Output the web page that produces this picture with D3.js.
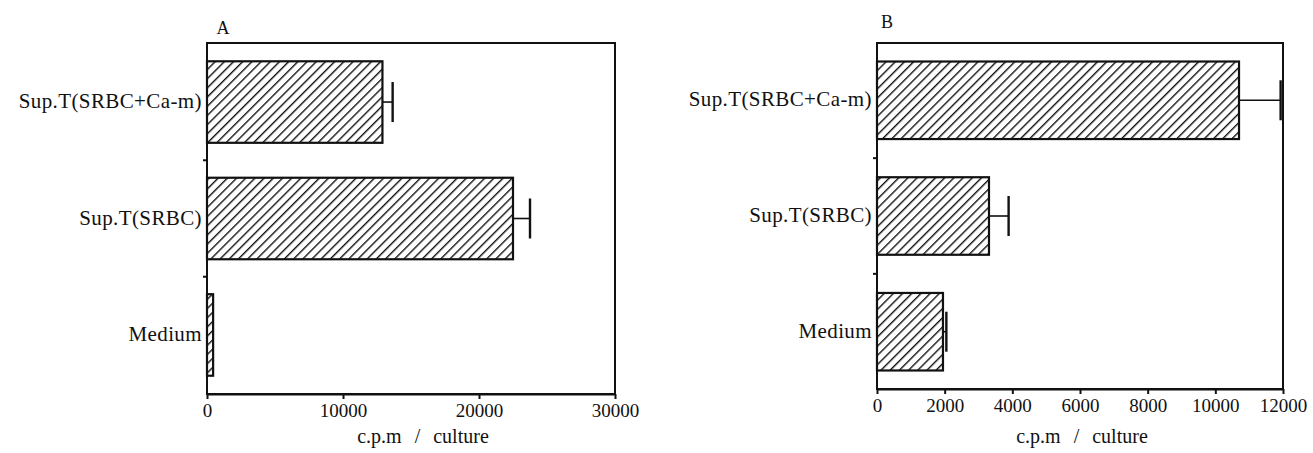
<!DOCTYPE html>
<html>
<head>
<meta charset="utf-8">
<script src="https://cdn.jsdelivr.net/npm/d3@7"></script>
<style>
  body { margin: 0; background: #fff; }
</style>
</head>
<body>
<div id="chart"></div>
<script>
// cpm per culture, two experiments (panel A / panel B)

const categories = ["Sup.T(SRBC+Ca-m)", "Sup.T(SRBC)", "Medium"];

const valuesA = [12900, 22500, 450];
const errorsA = [750, 1250, 0];
const ticksA  = [0, 10000, 20000, 30000];

const valuesB = [10700, 3310, 1950];
const errorsB = [1230, 580, 100];
const ticksB  = [0, 2000, 4000, 6000, 8000, 10000, 12000];

const axisTitle = "c.p.m / culture";

const FONT = "Liberation Serif";

const svg = d3.select("#chart").append("svg")
    .attr("width", 1313)
    .attr("height", 453);

// diagonal hatch used for every bar
const defs = svg.append("defs");
defs.append("pattern")
    .attr("id", "hatch")
    .attr("patternUnits", "userSpaceOnUse")
    .attr("width", 6.5)
    .attr("height", 6.5)
    .attr("patternTransform", "rotate(45)")
  .append("line")
    .attr("x1", 0).attr("y1", 0)
    .attr("x2", 0).attr("y2", 6.5)
    .attr("stroke", "#111")
    .attr("stroke-width", 2.8);

function drawPanel(opt) {
    const g = svg.append("g");

    const x = d3.scaleLinear()
        .domain([0, opt.max])
        .range([opt.left, opt.right]);

    const y = d3.scaleBand()
        .domain(categories)
        .range([opt.top, opt.bottom])
        .paddingInner(opt.padIn)
        .paddingOuter(opt.padOut);

    // frame
    g.append("rect")
        .attr("x", opt.left).attr("y", opt.top)
        .attr("width", opt.right - opt.left)
        .attr("height", opt.bottom - opt.top)
        .attr("fill", "none")
        .attr("stroke", "#111")
        .attr("stroke-width", 2);

    // bottom axis
    const xAxis = g.append("g")
        .attr("transform", `translate(0,${opt.bottom})`)
        .call(d3.axisBottom(x).tickValues(opt.ticks).tickSize(5).tickSizeOuter(0).tickFormat(d3.format("d")));
    xAxis.attr("font-family", FONT).attr("font-size", 19);
    xAxis.select(".domain").attr("stroke", "#111").attr("stroke-width", 2);
    xAxis.selectAll(".tick line").attr("stroke", "#111").attr("stroke-width", 2);
    xAxis.selectAll(".tick text")
        .attr("y", opt.tickLabelDy)
        .attr("font-family", FONT)
        .attr("font-size", 19)
        .attr("fill", "#111");

    // small ticks between categories on left axis
    const step = y.step();
    const bounds = categories.slice(1).map(c => y(c) - step * opt.padIn / 2);
    g.selectAll(".ytick").data(bounds).enter().append("line")
        .attr("x1", opt.left - 4).attr("x2", opt.left)
        .attr("y1", d => d).attr("y2", d => d)
        .attr("stroke", "#111")
        .attr("stroke-width", 2);

    // category labels
    g.selectAll(".cat").data(categories).enter().append("text")
        .attr("x", opt.left - 5)
        .attr("y", d => y(d) + y.bandwidth() / 2 + 6)
        .attr("text-anchor", "end")
        .attr("font-family", FONT)
        .attr("font-size", 21)
        .attr("letter-spacing", 0.4)
        .attr("fill", "#111")
        .text(d => d);

    // bars
    g.selectAll(".bar").data(opt.values).enter().append("rect")
        .attr("x", x(0))
        .attr("y", (d, i) => y(categories[i]))
        .attr("width", d => x(d) - x(0))
        .attr("height", y.bandwidth())
        .attr("fill", "url(#hatch)")
        .attr("stroke", "#111")
        .attr("stroke-width", 2.2);

    // error bars (one-sided, to the right)
    opt.values.forEach((v, i) => {
        const e = opt.errors[i];
        if (!e) return;
        const cy = y(categories[i]) + y.bandwidth() / 2;
        g.append("line")
            .attr("x1", x(v)).attr("x2", x(v + e))
            .attr("y1", cy).attr("y2", cy)
            .attr("stroke", "#111").attr("stroke-width", 1.6);
        g.append("line")
            .attr("x1", x(v + e)).attr("x2", x(v + e))
            .attr("y1", cy - 20).attr("y2", cy + 20)
            .attr("stroke", "#111").attr("stroke-width", 2.4);
    });

    // axis title and panel letter
    g.append("text")
        .attr("x", opt.titleX)
        .attr("y", 443)
        .attr("text-anchor", "middle")
        .attr("font-family", FONT)
        .attr("font-size", 20)
        .attr("word-spacing", 8)
        .attr("fill", "#111")
        .text(axisTitle);

    g.append("text")
        .attr("x", opt.letterX)
        .attr("y", opt.letterY)
        .attr("text-anchor", "middle")
        .attr("font-family", FONT)
        .attr("font-size", 18)
        .attr("fill", "#111")
        .text(opt.letter);
}

drawPanel({
    letter: "A", letterX: 223, letterY: 34,
    values: valuesA, errors: errorsA, ticks: ticksA, max: 30000,
    left: 207, right: 615, top: 43, bottom: 394,
    padIn: 0.3, padOut: 0.157,
    tickLabelDy: 10, titleX: 423
});

drawPanel({
    letter: "B", letterX: 887, letterY: 28,
    values: valuesB, errors: errorsB, ticks: ticksB, max: 12000,
    left: 877, right: 1283, top: 43, bottom: 389,
    padIn: 0.33, padOut: 0.16,
    tickLabelDy: 10, titleX: 1082
});
</script>
</body>
</html>
